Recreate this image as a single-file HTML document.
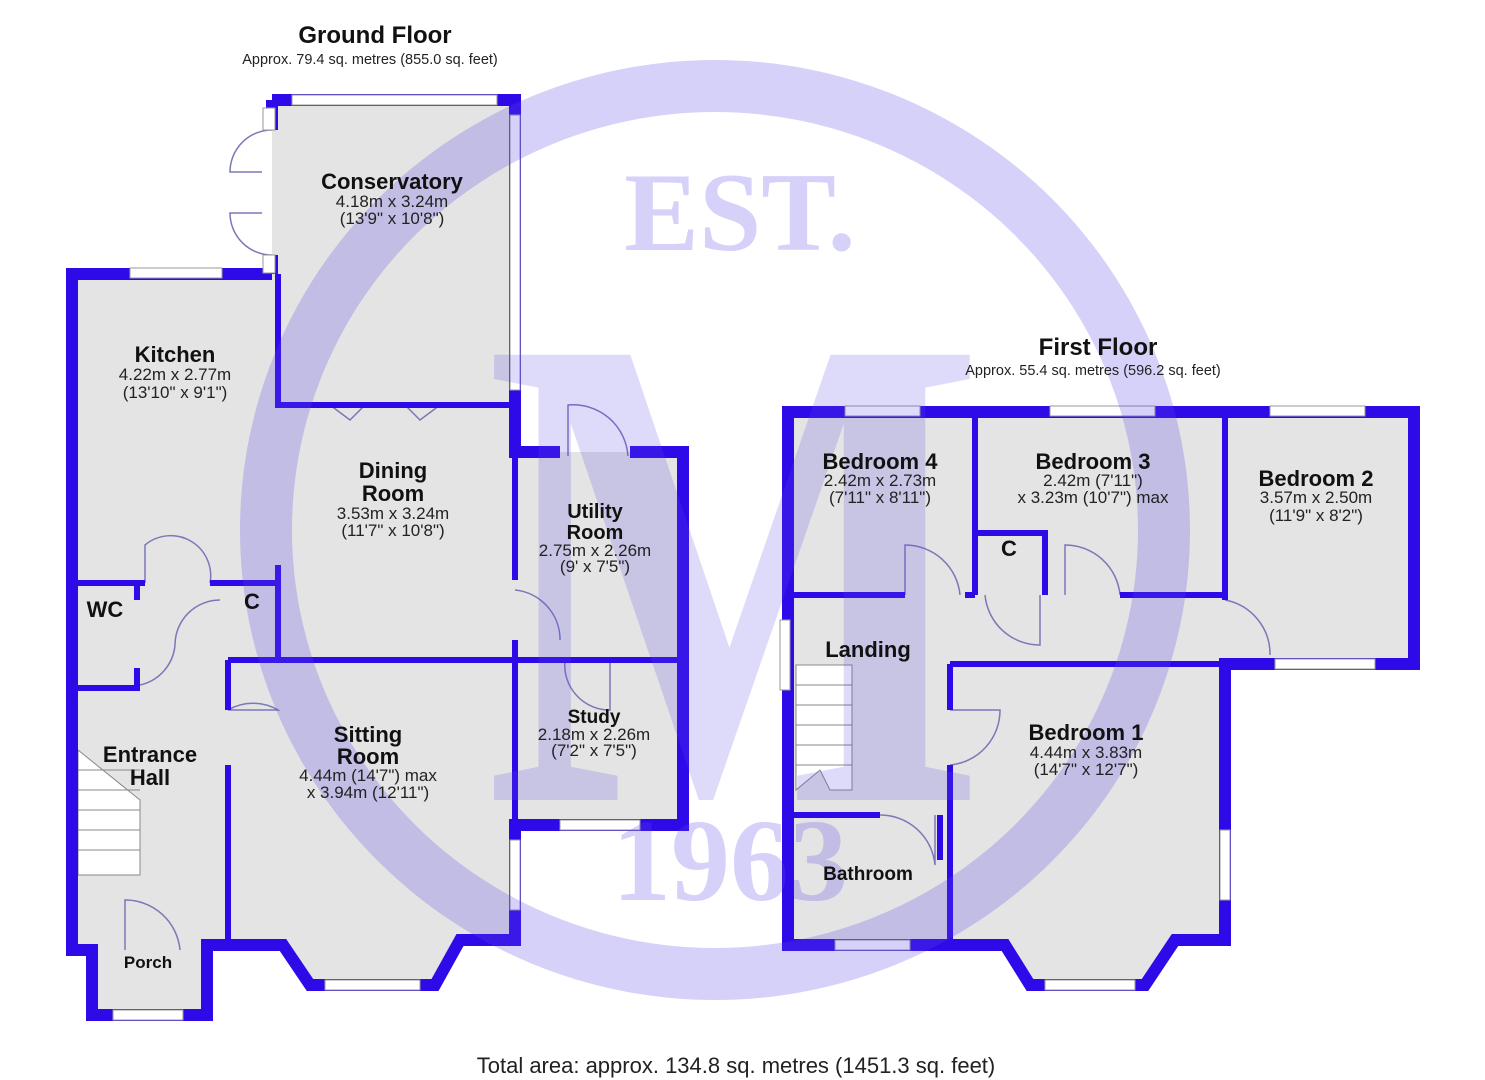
<!DOCTYPE html>
<html><head><meta charset="utf-8"><style>
html,body{margin:0;padding:0;background:#fff;}
svg{display:block;}
text{font-family:"Liberation Sans",sans-serif;}
.t{font-weight:bold;font-size:22px;fill:#111;text-anchor:middle;}
.d{font-size:17px;fill:#222;text-anchor:middle;}
.ext{fill:none;stroke:#2f0ae8;stroke-width:12;stroke-linejoin:miter;}
.int{fill:none;stroke:#2f0ae8;stroke-width:6;}
.win{fill:#fff;stroke:#999;stroke-width:1;}
.door{fill:none;stroke:#7a78b8;stroke-width:1.5;}
</style></head><body>
<svg width="1485" height="1080" viewBox="0 0 1485 1080" xmlns="http://www.w3.org/2000/svg">
<rect width="1485" height="1080" fill="#fff"/>
<g fill="#e4e4e4">
<polygon points="272,100 515,100 515,452 683,452 683,825 515,825 515,940 460,940 435,985 310,985 283,945 207,945 207,1015 92,1015 92,950 72,950 72,274 272,274"/>
<polygon points="788,412 1414,412 1414,664 1225,664 1225,940 1175,940 1145,985 1030,985 1005,945 788,945"/>
</g>
<g fill="#fff" stroke="#888" stroke-width="1">
<polygon points="78,750 140,800 140,875 78,875"/>
<line x1="78" y1="770" x2="140" y2="770"/><line x1="78" y1="790" x2="140" y2="790"/><line x1="78" y1="810" x2="140" y2="810"/><line x1="78" y1="830" x2="140" y2="830"/><line x1="78" y1="850" x2="140" y2="850"/>
<polygon points="796,665 852,665 852,790 830,790 820,770 796,790"/>
<line x1="796" y1="685" x2="852" y2="685"/><line x1="796" y1="705" x2="852" y2="705"/><line x1="796" y1="725" x2="852" y2="725"/><line x1="796" y1="745" x2="852" y2="745"/><line x1="796" y1="765" x2="852" y2="765"/>
</g>
<g class="door">
<path d="M272,130 A42,42 0 0 0 230,172 L262,172"/><path d="M272,255 A42,42 0 0 1 230,213 L262,213"/>
<path d="M330,405 L350,420 L365,405"/><path d="M405,405 L420,420 L440,405"/>
<path d="M145,583 L145,545 A40,40 0 0 1 210,583"/>
<path d="M175,645 A45,45 0 0 1 220,600"/><path d="M140,685 A45,45 0 0 0 175,645"/>
<path d="M228,710 A50,50 0 0 1 278,710 L228,710"/>
<path d="M515,590 A50,50 0 0 1 560,640"/>
<path d="M568,456 L568,405 A55,55 0 0 1 628,456"/>
<path d="M565,660 A45,45 0 0 0 610,710 L610,660"/>
<path d="M125,950 L125,900 A55,55 0 0 1 180,950"/>
<path d="M905,595 L905,545 A55,55 0 0 1 960,595"/>
<path d="M985,595 A55,55 0 0 0 1040,645 L1040,595"/>
<path d="M1065,595 L1065,545 A55,55 0 0 1 1120,595"/>
<path d="M1225,600 A55,55 0 0 1 1270,655"/>
<path d="M950,765 A55,55 0 0 0 1000,710 L950,710"/>
<path d="M880,815 A55,55 0 0 1 935,865 L935,815"/>
</g>
<path class="ext" d="M272,100 L515,100 L515,452 L560,452 M630,452 L683,452 L683,825 L515,825 L515,940 L460,940 L435,985 L310,985 L283,945 L207,945 L207,1015 L92,1015 L92,950 L72,950 L72,274 L272,274 M272,100 L272,130 M272,255 L272,274"/>
<path class="int" d="M278,274 L278,405 L515,405 M278,565 L278,660 M228,660 L683,660 M72,583 L145,583 M210,583 L278,583 M137,583 L137,600 M137,668 L137,688 L72,688 M228,660 L228,710 M228,765 L228,945 M515,452 L515,580 M515,640 L515,825 M515,660 L565,660 M620,660 L683,660"/>
<path class="ext" d="M788,412 L1414,412 L1414,664 L1225,664 L1225,940 L1175,940 L1145,985 L1030,985 L1005,945 L788,945 Z"/>
<path class="int" d="M975,412 L975,595 M794,595 L905,595 M965,595 L975,595 M975,533 L1045,533 L1045,595 M1120,595 L1225,595 M1225,412 L1225,600 M950,664 L1225,664 M950,664 L950,710 M950,765 L950,945 M794,815 L880,815 M940,815 L940,860"/>
<g class="win">
<rect x="292" y="95" width="205" height="10"/><rect x="263" y="108" width="12" height="22"/><rect x="263" y="255" width="12" height="18"/>
<rect x="510" y="115" width="10" height="275"/><rect x="130" y="268" width="92" height="10"/>
<rect x="510" y="840" width="10" height="70"/><rect x="560" y="820" width="80" height="10"/>
<rect x="325" y="980" width="95" height="10"/><rect x="113" y="1010" width="70" height="10"/>
<rect x="845" y="406" width="75" height="10"/><rect x="1050" y="406" width="105" height="10"/><rect x="1270" y="406" width="95" height="10"/>
<rect x="1275" y="659" width="100" height="10"/><rect x="1220" y="830" width="10" height="70"/>
<rect x="1045" y="980" width="90" height="10"/><rect x="835" y="940" width="75" height="10"/><rect x="780" y="620" width="10" height="70"/>
</g>
<g fill="#5a46e6" fill-opacity="0.25">
<path fill-rule="evenodd" d="M240,530 a475,470 0 1 0 950,0 a475,470 0 1 0 -950,0 Z M292,530 a423,418 0 1 0 846,0 a423,418 0 1 0 -846,0 Z"/>
<text x="740" y="250" font-weight="bold" font-size="112" text-anchor="middle" style="font-family:'Liberation Serif',serif">EST.</text>
<text x="485" y="800" font-weight="bold" font-size="680" textLength="500" lengthAdjust="spacingAndGlyphs" fill-opacity="0.2" style="font-family:'Liberation Serif',serif">M</text>
<text x="730" y="900" font-weight="bold" font-size="118" text-anchor="middle" style="font-family:'Liberation Serif',serif">1963</text>
</g>
<text class="t" x="375" y="43" style="font-size:24px">Ground Floor</text>
<text class="d" x="370" y="64" style="font-size:14.5px">Approx. 79.4 sq. metres (855.0 sq. feet)</text>
<text class="t" x="1098" y="355" style="font-size:24px">First Floor</text>
<text class="d" x="1093" y="375" style="font-size:14.5px">Approx. 55.4 sq. metres (596.2 sq. feet)</text>
<text class="d" x="736" y="1073" style="font-size:22px">Total area: approx. 134.8 sq. metres (1451.3 sq. feet)</text>

<text class="t" x="392" y="189">Conservatory</text><text class="d" x="392" y="207">4.18m x 3.24m</text><text class="d" x="392" y="224">(13'9" x 10'8")</text>
<text class="t" x="175" y="362">Kitchen</text><text class="d" x="175" y="380">4.22m x 2.77m</text><text class="d" x="175" y="398">(13'10" x 9'1")</text>
<text class="t" x="393" y="478">Dining</text><text class="t" x="393" y="501">Room</text><text class="d" x="393" y="519">3.53m x 3.24m</text><text class="d" x="393" y="536">(11'7" x 10'8")</text>
<text class="t" x="595" y="518" style="font-size:20px">Utility</text><text class="t" x="595" y="539" style="font-size:20px">Room</text><text class="d" x="595" y="556">2.75m x 2.26m</text><text class="d" x="595" y="572">(9' x 7'5")</text>
<text class="t" x="105" y="617">WC</text><text class="t" x="252" y="609">C</text>
<text class="t" x="150" y="762">Entrance</text><text class="t" x="150" y="785">Hall</text>
<text class="t" x="368" y="742">Sitting</text><text class="t" x="368" y="764">Room</text><text class="d" x="368" y="781">4.44m (14'7") max</text><text class="d" x="368" y="798">x 3.94m (12'11")</text>
<text class="t" x="594" y="723" style="font-size:19px">Study</text><text class="d" x="594" y="740">2.18m x 2.26m</text><text class="d" x="594" y="756">(7'2" x 7'5")</text>
<text class="t" x="148" y="968" style="font-size:17px">Porch</text>
<text class="t" x="880" y="469">Bedroom 4</text><text class="d" x="880" y="486">2.42m x 2.73m</text><text class="d" x="880" y="503">(7'11" x 8'11")</text>
<text class="t" x="1093" y="469">Bedroom 3</text><text class="d" x="1093" y="486">2.42m (7'11")</text><text class="d" x="1093" y="503">x 3.23m (10'7") max</text>
<text class="t" x="1316" y="486">Bedroom 2</text><text class="d" x="1316" y="503">3.57m x 2.50m</text><text class="d" x="1316" y="521">(11'9" x 8'2")</text>
<text class="t" x="1009" y="556">C</text>
<text class="t" x="868" y="657">Landing</text>
<text class="t" x="1086" y="740">Bedroom 1</text><text class="d" x="1086" y="758">4.44m x 3.83m</text><text class="d" x="1086" y="775">(14'7" x 12'7")</text>
<text class="t" x="868" y="880" style="font-size:19px">Bathroom</text>
</svg>
</body></html>
